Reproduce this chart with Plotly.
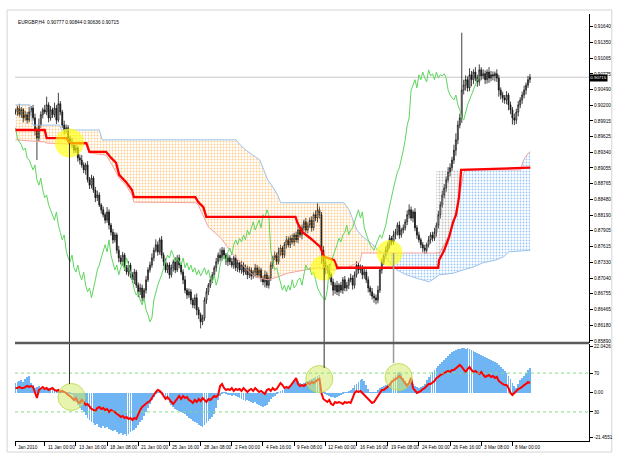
import plotly.graph_objects as go

# ---------------- data ----------------
# closes in pips (price * 10000), one per H4 bar
close_pips = [
    9008, 9015, 9003, 9012, 8997, 9003, 8993, 9008, 9015, 8997,
    8975, 8960, 8984, 9003, 9012, 9008, 9021, 8997, 9012, 9003,
    9015, 8993, 9023, 9008, 8984, 8975, 8979, 8960, 8953, 8948,
    8938, 8942, 8924, 8920, 8911, 8902, 8911, 8884, 8874, 8887,
    8865, 8851, 8856, 8838, 8829, 8820, 8810, 8825, 8801, 8788,
    8774, 8783, 8755, 8741, 8734, 8746, 8723, 8715, 8728, 8710,
    8701, 8715, 8691, 8679, 8686, 8668, 8682, 8701, 8719, 8728,
    8741, 8755, 8765, 8752, 8774, 8746, 8734, 8719, 8728, 8710,
    8723, 8734, 8719, 8741, 8728, 8715, 8701, 8682, 8673, 8679,
    8664, 8655, 8668, 8646, 8637, 8624, 8631, 8664, 8679, 8691,
    8701, 8710, 8723, 8734, 8746, 8741, 8755, 8746, 8734, 8741,
    8734, 8728, 8741, 8723, 8732, 8719, 8728, 8715, 8723, 8710,
    8719, 8708, 8715, 8723, 8710, 8719, 8704, 8697, 8710, 8691,
    8704, 8728, 8741, 8746, 8734, 8752, 8759, 8746, 8765, 8774,
    8765, 8777, 8770, 8783, 8774, 8792, 8783, 8796, 8807, 8792,
    8801, 8810, 8796, 8820, 8814, 8829, 8820, 8755, 8734, 8719,
    8723, 8710, 8697, 8682, 8691, 8679, 8691, 8682, 8701, 8686,
    8691, 8701, 8704, 8691, 8710, 8728, 8719, 8723, 8710, 8715,
    8701, 8686, 8679, 8671, 8668, 8664, 8682, 8719, 8734, 8746,
    8755, 8765, 8777, 8770, 8783, 8788, 8801, 8783, 8792, 8796,
    8807, 8820, 8829, 8814, 8825, 8796, 8783, 8774, 8765, 8759,
    8755, 8765, 8774, 8783, 8777, 8788, 8801, 8820, 8838, 8856,
    8869, 8884, 8898, 8906, 8920, 8938, 8957, 8984, 8997, 9048,
    9057, 9067, 9052, 9076, 9067, 9081, 9070, 9063, 9085, 9074,
    9078, 9067, 9081, 9070, 9076, 9074, 9078, 9070, 9048, 9039,
    9034, 9030, 9039, 9021, 9012, 8997, 8993, 9008, 9021, 9030,
    9039, 9048, 9057, 9067, 9071.5,
]
# wick lengths beyond the candle body, in pips
wick_up = [
    6, 4, 8, 5, 3, 7, 5, 9, 4, 6,
    8, 5, 12, 6, 4, 9, 15, 5, 7, 4,
    10, 6, 20, 5, 4, 8, 6, 5, 4, 7,
    5, 8, 4, 6, 9, 5, 4, 7, 5, 6,
    4, 6, 8, 5, 3, 6, 4, 9, 5, 4,
    6, 5, 4, 8, 5, 6, 4, 5, 7, 4,
    5, 6, 4, 5, 8, 6, 4, 7, 5, 6,
    8, 5, 10, 6, 4, 7, 5, 6, 4, 5,
    6, 4, 8, 5, 6, 4, 5, 7, 4, 6,
    5, 4, 6, 8, 5, 4, 6, 5, 7, 4,
    6, 5, 4, 7, 5, 12, 6, 5, 4, 6,
    5, 7, 4, 6, 5, 4, 8, 5, 6, 4,
    6, 5, 4, 7, 5, 6, 4, 5, 8, 6,
    5, 6, 4, 7, 5, 8, 6, 4, 5, 7,
    6, 5, 8, 4, 6, 10, 5, 6, 4, 7,
    6, 5, 7, 4, 8, 12, 6, 5, 8, 6,
    5, 7, 4, 6, 5, 8, 4, 6, 5, 7,
    6, 4, 8, 5, 6, 7, 4, 6, 5, 8,
    5, 6, 4, 7, 5, 6, 8, 5, 6, 4,
    7, 5, 6, 4, 8, 6, 5, 7, 4, 6,
    5, 8, 10, 6, 4, 7, 5, 6, 4, 5,
    6, 4, 7, 5, 6, 8, 5, 7, 6, 8,
    7, 6, 9, 8, 6, 10, 12, 8, 8, 105,
    10, 8, 6, 12, 7, 5, 9, 6, 10, 5,
    8, 6, 5, 9, 7, 6, 4, 8, 6, 5,
    6, 5, 7, 4, 6, 5, 8, 6, 7, 5,
    6, 8, 5, 7, 6,
]
wick_dn = [
    5, 7, 4, 6, 8, 5, 6, 4, 7, 5,
    10, 40, 6, 5, 7, 4, 6, 8, 5, 6,
    5, 7, 4, 6, 5, 8, 6, 7, 5, 6,
    6, 5, 7, 8, 5, 6, 9, 5, 7, 6,
    5, 8, 6, 4, 7, 5, 6, 5, 8, 6,
    7, 5, 6, 8, 5, 7, 6, 5, 8, 6,
    6, 8, 5, 10, 6, 7, 5, 6, 4, 5,
    5, 6, 4, 7, 5, 6, 8, 5, 6, 7,
    5, 7, 6, 4, 6, 5, 8, 6, 7, 5,
    8, 6, 7, 10, 8, 12, 6, 5, 7, 6,
    5, 6, 4, 7, 5, 6, 5, 7, 6, 8,
    6, 5, 7, 6, 8, 5, 7, 6, 5, 8,
    6, 7, 5, 8, 6, 5, 7, 6, 10, 5,
    6, 5, 7, 4, 6, 5, 8, 6, 5, 7,
    5, 6, 4, 7, 5, 6, 5, 8, 6, 5,
    6, 5, 7, 5, 6, 8, 7, 25, 10, 8,
    7, 8, 6, 10, 7, 6, 8, 5, 7, 6,
    6, 7, 5, 8, 6, 5, 7, 6, 8, 7,
    6, 8, 7, 6, 9, 8, 6, 5, 7, 6,
    6, 5, 7, 6, 5, 8, 6, 7, 5, 6,
    5, 6, 7, 5, 8, 6, 7, 5, 6, 8,
    7, 6, 5, 7, 6, 5, 8, 6, 7, 5,
    6, 7, 5, 8, 6, 7, 10, 8, 6, 9,
    8, 10, 7, 6, 12, 8, 6, 9, 7, 8,
    6, 8, 7, 9, 6, 8, 10, 7, 12, 8,
    9, 7, 8, 10, 8, 12, 9, 7, 8, 6,
    7, 6, 8, 5, 6,
]
# lower pane: oscillator line (0..100 scale) and histogram
rsi_vals = [
    54.6, 54.6, 55.7, 54.6, 54.6, 55.7, 56.7, 55.7, 56.7, 55.7,
    50.5, 44.3, 52.6, 54.6, 55.7, 53.6, 54.6, 52.6, 53.6, 54.6,
    52.6, 51.6, 52.6, 50.5, 51.6, 50.5, 49.5, 47.4, 46.4, 44.3,
    42.3, 44.3, 40.2, 39.2, 42.3, 40.2, 37.1, 38.1, 35.1, 33.0,
    32.0, 30.9, 34.0, 35.1, 33.0, 34.0, 32.0, 33.0, 29.9, 32.0,
    30.9, 29.9, 27.8, 26.8, 24.7, 25.8, 23.7, 24.7, 22.7, 23.7,
    21.6, 23.7, 22.7, 27.8, 32.0, 35.1, 37.1, 39.2, 40.2, 41.2,
    44.3, 48.5, 50.5, 52.6, 51.6, 49.5, 46.4, 43.3, 45.4, 42.3,
    40.2, 38.1, 41.2, 44.3, 46.4, 43.3, 46.4, 44.3, 45.4, 42.3,
    41.2, 39.2, 42.3, 40.2, 43.3, 41.2, 44.3, 42.3, 40.2, 43.3,
    42.3, 44.3, 46.4, 45.4, 47.4, 56.7, 58.8, 54.6, 52.6, 53.6,
    52.6, 54.6, 51.6, 53.6, 52.6, 53.6, 51.6, 54.6, 52.6, 50.5,
    52.6, 53.6, 51.6, 54.6, 52.6, 50.5, 51.6, 49.5, 48.5, 52.6,
    53.6, 51.6, 54.6, 52.6, 53.6, 56.7, 59.8, 57.7, 54.6, 55.7,
    54.6, 56.7, 58.8, 61.9, 65.0, 58.8, 56.7, 57.7, 56.7, 58.8,
    59.8, 58.8, 60.8, 59.8, 61.9, 62.9, 63.9, 49.5, 43.3, 41.2,
    40.2, 42.3, 38.1, 37.1, 40.2, 39.2, 40.2, 39.2, 38.1, 40.2,
    39.2, 40.2, 39.2, 44.3, 49.5, 51.6, 50.5, 51.6, 49.5, 47.4,
    45.4, 42.3, 40.2, 39.2, 40.2, 43.3, 47.4, 49.5, 52.6, 52.6,
    54.6, 56.7, 57.7, 60.8, 62.9, 63.9, 65.0, 67.0, 65.0, 61.9,
    58.8, 56.7, 59.8, 65.0, 54.6, 51.6, 49.5, 50.5, 51.6, 53.6,
    54.6, 56.7, 58.8, 58.8, 60.8, 61.9, 65.0, 66.0, 68.0, 69.1,
    70.1, 71.1, 72.2, 71.1, 73.2, 73.2, 75.3, 77.3, 78.4, 76.3,
    73.2, 71.1, 74.2, 76.3, 73.2, 71.1, 72.2, 70.1, 69.1, 71.1,
    68.0, 66.0, 67.0, 68.0, 66.0, 67.0, 65.0, 66.0, 61.9, 59.8,
    58.8, 57.7, 57.7, 54.6, 49.5, 47.4, 49.5, 52.6, 53.6, 54.6,
    55.7, 57.7, 58.8, 60.8, 59.8,
]
hist_vals = [
    4.6, 5.1, 5.6, 6.1, 5.1, 6.6, 7.5, 8.0, 4.6, 3.7,
    2.3, 2.7, 3.2, 2.3, 1.8, 1.3, 1.8, 2.3, 1.3, 1.8,
    1.3, 0.8, 1.8, 1.3, 0.3, 0.3, -0.1, -0.6, -0.6, -1.1,
    -2.5, -4.5, -5.9, -7.3, -8.3, -9.2, -10.7, -12.1, -13.1, -14.0,
    -14.5, -15.5, -15.0, -16.4, -16.9, -16.0, -16.9, -16.4, -17.4, -17.9,
    -18.3, -17.9, -18.8, -19.8, -19.3, -20.3, -19.8, -20.7, -19.8, -18.8,
    -18.3, -17.9, -16.9, -15.5, -14.0, -13.1, -11.2, -9.2, -7.3, -5.4,
    -3.5, -2.1, -0.6, -0.1, 0.3, -0.6, -1.6, -2.5, -3.5, -4.9,
    -5.9, -6.8, -7.8, -8.3, -8.8, -9.2, -9.7, -10.2, -11.2, -12.1,
    -12.6, -13.6, -14.0, -14.5, -15.5, -16.0, -16.4, -15.5, -14.5, -13.6,
    -12.6, -11.6, -10.2, -7.3, -3.5, -1.6, -0.6, -0.1, -0.6, -1.1,
    -1.1, -1.6, -1.1, -1.6, -2.1, -2.5, -3.0, -3.5, -4.0, -3.5,
    -4.0, -4.5, -4.9, -4.5, -5.4, -5.9, -6.4, -6.8, -6.4, -5.9,
    -4.5, -3.0, -2.1, -1.6, -0.6, -0.1, 0.8, 1.3, 1.8, 2.3,
    2.7, 3.2, 4.2, 6.1, 7.0, 5.6, 4.6, 4.2, 4.6, 5.1,
    5.6, 6.1, 6.6, 7.0, 7.5, 8.0, 8.5, 0.3, -0.1, -0.6,
    -1.1, -1.6, -2.1, -2.1, -2.5, -2.1, -1.6, -1.1, -0.6, -0.1,
    0.3, 0.8, 1.3, 2.3, 3.7, 4.2, 5.1, 6.1, 6.6, 5.6,
    3.7, 1.8, 0.3, -0.1, -0.1, 0.3, 1.3, 2.3, 2.7, 3.2,
    3.7, 4.2, 4.6, 6.1, 7.5, 8.5, 9.4, 9.9, 9.0, 7.0,
    5.6, 4.6, 5.1, 6.1, 4.2, 3.2, 2.7, 2.3, 2.7, 3.2,
    4.2, 6.1, 7.5, 8.5, 9.9, 10.9, 11.8, 12.8, 13.7, 14.7,
    15.7, 16.6, 17.6, 18.5, 19.5, 20.0, 20.5, 20.9, 20.9, 21.4,
    21.4, 20.9, 21.4, 20.9, 20.5, 20.0, 19.5, 19.0, 18.5, 18.1,
    17.6, 17.1, 16.6, 16.1, 15.7, 15.2, 14.7, 14.2, 13.3, 12.3,
    11.4, 10.4, 9.4, 8.0, 6.6, 4.6, 3.2, 2.3, 4.2, 6.1,
    7.0, 8.0, 9.4, 10.9, 11.8,
]
# cloud boundaries (bar index, pips) - light-blue span and pink span
span_a_bar = [0, 7.4, 8.9, 22.6, 23.7, 43.0, 44.5, 113.2, 115.2, 118.3,
              121.8, 125.4, 127.4, 129.4, 132.0, 134.5, 136.1, 168.6, 171.2, 173.2,
              175.2, 177.8, 180.3, 183.4, 186.4, 188.5, 191.5, 195.6, 200.7, 205.7,
              212.4, 217.5, 224.6, 229.7, 234.7, 239.8, 246.4, 250.5, 253.1, 264.2]
span_a_pips = [9021, 9021, 8984, 8984, 8975, 8975, 8957, 8957, 8948, 8938,
               8929, 8920, 8902, 8884, 8871, 8856, 8842, 8842, 8829, 8810,
               8792, 8781, 8774, 8765, 8755, 8750, 8734, 8719, 8710, 8704,
               8697, 8710, 8713, 8719, 8724, 8732, 8737, 8743, 8752, 8755]
span_b_bar = [0, 15.0, 16.0, 36.4, 37.9, 46.5, 49.6, 53.2, 56.7, 59.8,
              60.8, 92.3, 93.8, 98.9, 105.5, 110.6, 117.8, 122.8, 129.4, 134.5,
              139.6, 148.3, 154.9, 163.5, 170.1, 176.8, 177.8, 188.5, 217.5, 220.0,
              222.5, 225.1, 227.1, 228.7, 230.2, 231.2, 259.2, 260.7, 263.2, 264.2]
span_b_pips = [8957, 8953, 8951, 8948, 8933, 8929, 8911, 8887, 8874, 8856,
               8843, 8842, 8838, 8798, 8777, 8752, 8723, 8706, 8701, 8706,
               8713, 8719, 8723, 8719, 8723, 8734, 8750, 8750, 8750, 8765,
               8783, 8810, 8847, 8874, 8898, 8902, 8902, 8920, 8933, 8935]
kumo_twist_bar = 188.5
# thick red base line
kijun_bar = [0, 15.0, 16.0, 26.2, 27.7, 36.4, 37.9, 46.5, 49.1, 51.6,
             53.2, 56.7, 59.8, 60.8, 92.3, 93.8, 96.4, 97.9, 143.7, 144.7,
             147.3, 151.3, 156.4, 158.4, 163.5, 165.1, 216.9, 217.4, 220.0, 222.5,
             224.6, 226.1, 227.6, 228.7, 264.2]
kijun_pips = [8975, 8975, 8960, 8960, 8951, 8951, 8935, 8935, 8924, 8915,
              8893, 8880, 8865, 8852, 8852, 8843, 8834, 8816, 8816, 8805,
              8788, 8777, 8761, 8743, 8737, 8723, 8723, 8737, 8755, 8779,
              8807, 8820, 8852, 8902, 8906]
# grey shaded zone left of the base line's jump
grey_zone_bar = [216.0, 228.7]
grey_zone_top_pips = [8900, 8902]
chikou_shift = 26

# highlighted spots and connectors
hl_bar = [27.7, 157.9, 192.0]
hl_price = [0.8951, 0.87226, 0.8750]
osc_hl_bar = [28.7, 155.9, 196.6]
osc_hl_val = [45.4, 63.9, 66.0]
link_bar = [27.7, 158.4, 194.0]
link_price = [0.8951, 0.8723, 0.8750]
link_osc = [58.8, 75.3, 80.4]

tick_bars = [0, 15, 31, 47, 63, 79, 95, 111, 127, 143, 159, 175, 191, 207, 223, 239, 255]
tick_labels = ["Jan 2010", "11 Jan 00:00", "13 Jan 16:00", "18 Jan 08:00", "21 Jan 00:00",
               "25 Jan 16:00", "28 Jan 08:00", "2 Feb 00:00", "4 Feb 16:00", "9 Feb 08:00",
               "12 Feb 00:00", "16 Feb 16:00", "19 Feb 08:00", "24 Feb 00:00", "26 Feb 16:00",
               "3 Mar 08:00", "8 Mar 00:00"]
price_ticks = [0.91640, 0.91350, 0.91065, 0.90775, 0.90490, 0.90200, 0.89915, 0.89625,
               0.89340, 0.89055, 0.88765, 0.88480, 0.88190, 0.87905, 0.87615, 0.87330,
               0.87040, 0.86755, 0.86465, 0.86180, 0.85890]
osc_ticks = [22.0426, 0.0, -21.4551]
osc_tick_text = ["22.0426", "0.00", "-21.4551"]
level_ticks = [70, 30]
last_price = 0.90715
title_text = "EURGBP,H4  0.90777 0.90844 0.90636 0.90715"

# ---------------- build ----------------
P = 10000.0
close = [v / P for v in close_pips]
opens = [close[0]] + close[:-1]
highs = [max(o, c) + u / P for o, c, u in zip(opens, close, wick_up)]
lows = [min(o, c) - d / P for o, c, d in zip(opens, close, wick_dn)]
bars = list(range(len(close)))

def part(bx, py, lo, hi):
    xs = [b for b in bx if lo <= b <= hi]
    ys = [p / P for b, p in zip(bx, py) if lo <= b <= hi]
    return xs, ys

FONT = "Liberation Sans"
FS = 4.7
XR = [-0.25, 294.3]
MAIN_BOTTOM = 0.2295
OSC_TOP = 0.2272

def dots(color):
    return dict(shape=".", fgcolor=color, bgcolor="rgba(255,255,255,0)", size=3, solidity=0.3)

fig = go.Figure()

# bearish (orange) cloud
bx, by = part(span_b_bar, span_b_pips, -1, kumo_twist_bar)
ax_, ay = part(span_a_bar, span_a_pips, -1, kumo_twist_bar)
fig.add_trace(go.Scatter(x=bx, y=by, mode="lines", line=dict(color="#f4a3a3", width=1),
                         hoverinfo="skip"))
fig.add_trace(go.Scatter(x=ax_, y=ay, mode="lines", line=dict(color="#9cc3ea", width=1),
                         fill="tonexty", fillcolor="rgba(0,0,0,0)",
                         fillpattern=dots("#ff9a1a"), hoverinfo="skip"))
# bullish (blue) cloud
ax2, ay2 = part(span_a_bar, span_a_pips, kumo_twist_bar, 1e9)
bx2, by2 = part(span_b_bar, span_b_pips, kumo_twist_bar, 1e9)
fig.add_trace(go.Scatter(x=ax2, y=ay2, mode="lines", line=dict(color="#9cc3ea", width=1),
                         hoverinfo="skip"))
fig.add_trace(go.Scatter(x=bx2, y=by2, mode="lines", line=dict(color="#f4a3a3", width=1),
                         fill="tonexty", fillcolor="rgba(0,0,0,0)",
                         fillpattern=dots("#3590f0"), hoverinfo="skip"))
# grey zone: between a flat top and the base line's rising segment
gk_x, gk_y = part(kijun_bar, kijun_pips, grey_zone_bar[0], grey_zone_bar[1])
fig.add_trace(go.Scatter(x=grey_zone_bar, y=[p / P for p in grey_zone_top_pips], mode="lines",
                         line=dict(width=0), hoverinfo="skip"))
fig.add_trace(go.Scatter(x=[grey_zone_bar[0]] + gk_x, y=[gk_y[0]] + gk_y, mode="lines",
                         line=dict(width=0), fill="tonexty", fillcolor="rgba(0,0,0,0)",
                         fillpattern=dots("#808080"), hoverinfo="skip"))

fig.add_trace(go.Candlestick(
    x=bars, open=opens, high=highs, low=lows, close=close,
    increasing=dict(line=dict(color="#111111", width=0.8), fillcolor="#ffffff"),
    decreasing=dict(line=dict(color="#111111", width=0.8), fillcolor="#111111"),
    whiskerwidth=0, hoverinfo="skip"))

# lagging line
fig.add_trace(go.Scatter(x=[i - chikou_shift for i in bars[chikou_shift:]],
                         y=close[chikou_shift:], mode="lines",
                         line=dict(color="#5ed65e", width=1), hoverinfo="skip"))
# base line
fig.add_trace(go.Scatter(x=kijun_bar, y=[p / P for p in kijun_pips], mode="lines",
                         line=dict(color="#ff0000", width=2.3), hoverinfo="skip"))
# highlight circles
fig.add_trace(go.Scatter(x=hl_bar, y=hl_price, mode="markers",
                         marker=dict(size=[29, 25, 26], color="rgba(255,255,0,0.9)",
                                     line=dict(width=0)), hoverinfo="skip"))

# lower pane
fig.add_trace(go.Bar(x=bars, y=hist_vals, xaxis="x2", yaxis="y2", width=0.42,
                     marker=dict(color="#6fb5f3", line=dict(width=0)), hoverinfo="skip"))
fig.add_trace(go.Scatter(x=bars, y=rsi_vals, xaxis="x2", yaxis="y3", mode="lines",
                         line=dict(color="#ff0000", width=2), hoverinfo="skip"))
fig.add_trace(go.Scatter(x=osc_hl_bar, y=osc_hl_val, xaxis="x2", yaxis="y3", mode="markers",
                         marker=dict(size=27, color="rgba(212,235,110,0.55)",
                                     line=dict(color="rgba(190,220,80,0.9)", width=1)),
                         hoverinfo="skip"))

shapes = []
# outer frame
shapes.append(dict(type="rect", xref="paper", yref="paper", x0=-0.0138, x1=1.0397,
                   y0=-0.0258, y1=1.0094, line=dict(color="#d4d4d4", width=1), layer="below"))
# last price line
shapes.append(dict(type="line", xref="paper", yref="y", x0=0, x1=1, y0=last_price, y1=last_price,
                   line=dict(color="#c8c8c8", width=1), layer="below"))
# levels in lower pane
for lv in level_ticks:
    shapes.append(dict(type="line", xref="paper", yref="y3", x0=0, x1=1, y0=lv, y1=lv,
                       line=dict(color="#86dc86", width=1, dash="dot")))
# connectors
for i, (b, p, o) in enumerate(zip(link_bar, link_price, link_osc)):
    col = "#303030" if i < 2 else "#9a9a9a"
    w = 1 if i < 2 else 1.5
    shapes.append(dict(type="line", xref="x", yref="y", x0=b, x1=b, y0=p, y1=0.85853,
                       line=dict(color=col, width=w)))
    shapes.append(dict(type="line", xref="x2", yref="y3", x0=b, x1=b, y0=100, y1=o,
                       line=dict(color=col, width=w)))
# pane separator
shapes.append(dict(type="line", xref="paper", yref="paper", x0=0, x1=1,
                   y0=MAIN_BOTTOM, y1=MAIN_BOTTOM, line=dict(color="#5a5a5a", width=2.5)))

annotations = [
    dict(xref="paper", yref="paper", x=0, y=1, xanchor="left", yanchor="middle",
         xshift=1, yshift=-8, text=title_text, showarrow=False,
         font=dict(family=FONT, size=FS, color="#000000")),
    dict(xref="paper", yref="y", x=1, y=last_price, xanchor="left", yanchor="middle",
         xshift=0, yshift=-0.5, text=f"{last_price:.5f}", showarrow=False, bgcolor="#000000",
         borderpad=0.3, font=dict(family=FONT, size=4.4, color="#ffffff")),
]
for tb, tl in zip(tick_bars, tick_labels):
    annotations.append(dict(xref="x2", yref="paper", x=tb, y=0, xanchor="left", yanchor="top",
                            xshift=1, yshift=-1.5, text=tl, showarrow=False,
                            font=dict(family=FONT, size=FS, color="#000000")))

fig.update_layout(
    width=625, height=463,
    margin=dict(l=15, r=31, t=14, b=22),
    paper_bgcolor="#ffffff", plot_bgcolor="#ffffff",
    showlegend=False,
    font=dict(family=FONT, size=FS, color="#000000"),
    bargap=0,
    xaxis=dict(domain=[0, 1], anchor="y", range=XR, showticklabels=False, showgrid=False,
               zeroline=False, showline=False, ticks="", rangeslider=dict(visible=False),
               fixedrange=True),
    yaxis=dict(domain=[MAIN_BOTTOM, 1], anchor="x", side="right", range=[0.85853, 0.91872],
               tickvals=price_ticks, ticktext=[f"{v:.5f}" for v in price_ticks],
               ticks="outside", ticklen=3, tickwidth=1, tickcolor="#000000",
               showline=True, linecolor="#000000", linewidth=1, showgrid=False, zeroline=False,
               tickfont=dict(family=FONT, size=FS)),
    xaxis2=dict(domain=[0, 1], anchor="y2", range=XR, tickvals=tick_bars, showticklabels=False,
                ticks="outside", ticklen=4, tickcolor="#000000", showgrid=False, zeroline=False,
                showline=True, linecolor="#000000", linewidth=1),
    yaxis2=dict(domain=[0, OSC_TOP], anchor="x2", side="right", range=[-23.14, 23.33],
                tickvals=osc_ticks, ticktext=osc_tick_text, ticks="outside", ticklen=3,
                tickcolor="#000000", showline=True, linecolor="#000000", linewidth=1,
                showgrid=False, zeroline=False, tickfont=dict(family=FONT, size=FS)),
    yaxis3=dict(overlaying="y2", anchor="x2", side="right", range=[0, 100],
                tickvals=level_ticks, ticktext=[str(v) for v in level_ticks], ticks="outside",
                ticklen=3, tickcolor="#000000", showline=False, showgrid=False, zeroline=False,
                tickfont=dict(family=FONT, size=FS)),
    shapes=shapes,
    annotations=annotations,
)

fig.write_html("out.html")
